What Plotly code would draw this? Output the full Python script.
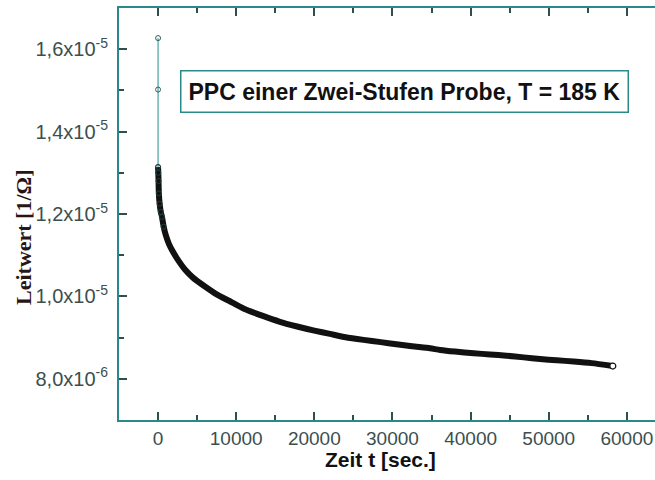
import plotly.graph_objects as go

# Early (sparse) points right after excitation
t_early = [0, 0, 0]
g_early = [1.627e-5, 1.502e-5, 1.314e-5]

# Main decay
t_main = [0, 30, 60, 100, 200, 350, 500, 720, 1000, 1400, 1800, 2500, 3500, 4500,
          6000, 7500, 9300, 11000, 13500, 15500, 17800, 20000, 22000, 24000,
          26300, 28500, 30500, 32500, 34800, 36100, 38000, 40400, 42500, 44600,
          46800, 48900, 51000, 53200, 55500, 58200]
g_main = [1.314e-5, 1.30e-5, 1.28e-5, 1.25e-5, 1.225e-5, 1.205e-5, 1.193e-5, 1.169e-5,
          1.148e-5, 1.127e-5, 1.112e-5, 1.090e-5, 1.064e-5, 1.045e-5,
          1.024e-5, 1.005e-5, 9.87e-6, 9.70e-6, 9.52e-6, 9.39e-6, 9.27e-6, 9.17e-6,
          9.09e-6, 9.01e-6, 8.945e-6, 8.89e-6, 8.84e-6, 8.79e-6, 8.74e-6, 8.70e-6,
          8.66e-6, 8.62e-6, 8.59e-6, 8.56e-6, 8.52e-6, 8.48e-6, 8.45e-6, 8.42e-6,
          8.38e-6, 8.31e-6]

y_tickvals = [8e-6, 1.0e-5, 1.2e-5, 1.4e-5, 1.6e-5]
y_ticktext = ["8,0x10<sup>-6</sup>", "1,0x10<sup>-5</sup>", "1,2x10<sup>-5</sup>",
              "1,4x10<sup>-5</sup>", "1,6x10<sup>-5</sup>"]
x_tickvals = [0, 10000, 20000, 30000, 40000, 50000, 60000]

TEAL = "#2a8a8a"
TICK = "#2f4f4f"
LBL = "#3b4f4f"
SANS = "Liberation Sans, Arial, sans-serif"

fig = go.Figure()

# early points with thin teal connecting line
fig.add_trace(go.Scatter(
    x=t_early, y=g_early, mode="lines+markers",
    line=dict(color=TEAL, width=1),
    marker=dict(symbol="circle-open", size=5, color="#2f5f5f", line=dict(width=1)),
    showlegend=False, hoverinfo="skip"))

# dense band drawn as thick line
fig.add_trace(go.Scatter(
    x=t_main, y=g_main, mode="lines",
    line=dict(color="#111111", width=6, shape="spline", smoothing=0.6),
    showlegend=False, hoverinfo="skip"))

# markers on the band
fig.add_trace(go.Scatter(
    x=t_main[:8], y=g_main[:8], mode="markers",
    marker=dict(symbol="circle-open", size=5, color="#1f3f3f", line=dict(width=1)),
    showlegend=False, hoverinfo="skip"))

# last point
fig.add_trace(go.Scatter(
    x=t_main[-1:], y=g_main[-1:], mode="markers",
    marker=dict(symbol="circle", size=6, color="white", line=dict(width=1.2, color="#111")),
    showlegend=False, hoverinfo="skip"))

fig.update_layout(
    width=655, height=480,
    margin=dict(l=119, r=0, t=8, b=60),
    plot_bgcolor="white", paper_bgcolor="white",
    xaxis=dict(
        range=[-5000, 63600], tickmode="array", tickvals=x_tickvals,
        ticktext=[str(v) for v in x_tickvals],
        showgrid=False, zeroline=False,
        showline=True, linecolor=TEAL, linewidth=2, mirror="ticks",
        ticks="inside", ticklen=8, tickwidth=1.5, tickcolor=TICK,
        minor=dict(tickmode="linear", tick0=0, dtick=5000, ticks="inside",
                   ticklen=5, tickwidth=1.5, tickcolor=TICK),
        tickfont=dict(family=SANS, size=19, color=LBL),
        ticklabelstandoff=0,
    ),
    yaxis=dict(
        range=[7e-6, 1.7e-5], tickmode="array", tickvals=y_tickvals, ticktext=y_ticktext,
        showgrid=False, zeroline=False,
        showline=True, linecolor=TEAL, linewidth=2,
        ticks="inside", ticklen=8, tickwidth=1.5, tickcolor=TICK,
        minor=dict(tickmode="linear", tick0=0, dtick=1e-6, ticks="inside",
                   ticklen=5, tickwidth=1.5, tickcolor=TICK),
        tickfont=dict(family=SANS, size=20, color=LBL),
        ticklabelstandoff=5,
    ),
    annotations=[
        dict(text="<b>PPC einer Zwei-Stufen Probe, T = 185 K</b>",
             xref="paper", yref="paper", x=(404.5 - 119) / 536, y=(420 - 91) / 412,
             xanchor="center", yanchor="middle", showarrow=False,
             font=dict(family=SANS, size=23, color="#111"),
             bordercolor=TEAL, borderwidth=1.5, borderpad=7, bgcolor="white"),
        dict(text="<b>Zeit t [sec.]</b>",
             xref="paper", yref="paper", x=(380 - 119) / 536, y=(420 - 459) / 412,
             xanchor="center", yanchor="middle", showarrow=False,
             font=dict(family=SANS, size=21, color="#111")),
        dict(text="<b>Leitwert [1/Ω]</b>",
             xref="paper", yref="paper", x=(23 - 119) / 536, y=(420 - 237) / 412,
             xanchor="center", yanchor="middle", showarrow=False, textangle=-90,
             font=dict(family="Liberation Serif, Times New Roman, serif", size=22, color="#2a1515")),
    ],
)

fig.write_html("out.html")
